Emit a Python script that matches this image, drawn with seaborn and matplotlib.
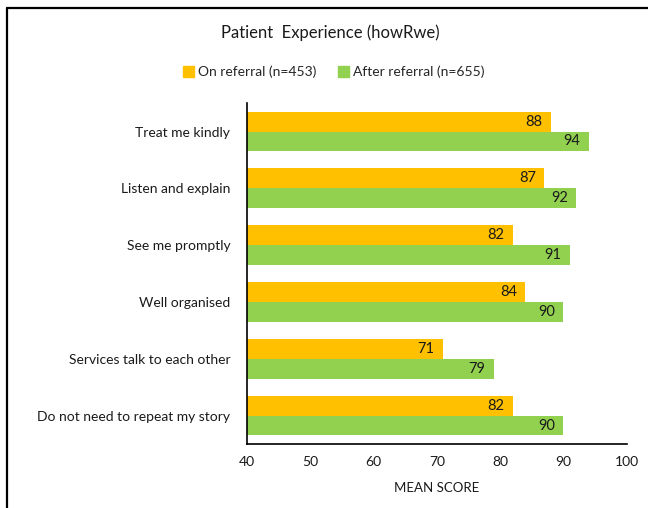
import matplotlib
matplotlib.use("Agg")
import matplotlib.pyplot as plt
from matplotlib.lines import Line2D
import pandas as pd
import seaborn as sns

# Survey items and mean scores
items = [
    "Treat me kindly",
    "Listen and explain",
    "See me promptly",
    "Well organised",
    "Services talk to each other",
    "Do not need to repeat my story",
]
on_referral = [88, 87, 82, 84, 71, 82]
after_referral = [94, 92, 91, 90, 79, 90]
groups = ["On referral (n=453)", "After referral (n=655)"]
colors = ["#FFC000", "#92D050"]
x_ticks = [40, 50, 60, 70, 80, 90, 100]

df = pd.DataFrame({
    "item": items * 2,
    "score": on_referral + after_referral,
    "group": [groups[0]] * len(items) + [groups[1]] * len(items),
})

sns.set_theme(style="white")
plt.rcParams["font.family"] = ["Lato", "DejaVu Sans"]

fig = plt.figure(figsize=(6.48, 5.08), dpi=100)
ax = fig.add_axes([0.381, 0.126, 0.586, 0.671])

sns.barplot(data=df, y="item", x="score", hue="group", orient="h",
            palette=colors, width=0.7, ax=ax, saturation=1, errorbar=None,
            legend=True, linewidth=0)

ax.set_xlim(40, 100)
ax.set_xticks(x_ticks)
ax.set_xlabel("MEAN SCORE", fontsize=9.5, color="#1a1a1a", labelpad=10)
ax.set_ylabel("")
ax.tick_params(axis="x", length=0, pad=9, labelsize=10, labelcolor="#1a1a1a")
ax.tick_params(axis="y", length=0, pad=12, labelsize=10, labelcolor="#1a1a1a")

for side in ["top", "right"]:
    ax.spines[side].set_visible(False)
for side in ["left", "bottom"]:
    ax.spines[side].set_color("black")
    ax.spines[side].set_linewidth(1.2)

# Value labels just inside the end of each bar
for cont in ax.containers:
    labels = ax.bar_label(cont, fmt="%d", padding=-6, fontsize=10.5,
                          color="#1a1a1a")
    for t in labels:
        t.set_horizontalalignment("right")

# Legend above the chart
ax.get_legend().remove()
handles = [plt.Rectangle((0, 0), 1, 1, color=c) for c in colors]
fig.legend(handles, groups, loc="center", bbox_to_anchor=(0.515, 0.858),
           ncol=2, frameon=False, fontsize=10, handlelength=0.75,
           handleheight=0.75, handletextpad=0.3, columnspacing=1.6)

fig.text(0.51, 0.935, "Patient  Experience (howRwe)", ha="center",
         va="center", fontsize=12, color="#1a1a1a")

# Frame lines along the left and top of the figure
fig.add_artist(Line2D([0.0115, 0.0115], [0.0, 0.984], transform=fig.transFigure,
                      color="black", lw=1.6))
fig.add_artist(Line2D([0.0115, 1.0], [0.984, 0.984], transform=fig.transFigure,
                      color="black", lw=1.6))

fig.savefig("out.png", dpi=100)
